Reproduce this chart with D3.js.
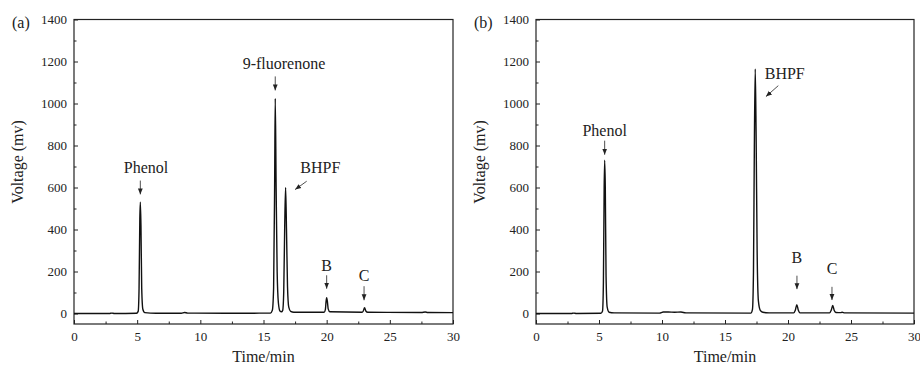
<!DOCTYPE html>
<html>
<head>
<meta charset="utf-8">
<script src="https://cdn.jsdelivr.net/npm/d3@7"></script>
<style>
  body { margin: 0; background: #fff; }
  svg text { font-family: "Liberation Serif", "Times New Roman", Times, serif !important; fill: #222; }
</style>
</head>
<body>
<div id="chart"></div>
<script>
// chromatogram (a): [time (min), voltage (mV)]
const traceA = [
  [0, 0], [2.8, 0], [3.0, 2], [3.2, 0], [4.95, 1], [5.08, 10], [5.15, 120], [5.21, 450],
  [5.25, 530], [5.3, 420], [5.36, 120], [5.45, 20], [5.6, 4], [6.5, 1], [8.5, 1], [8.75, 5],
  [9.0, 2], [12, 1], [15.55, 2], [15.7, 15], [15.8, 120], [15.88, 600], [15.93, 1024],
  [16.0, 600], [16.08, 200], [16.18, 50], [16.3, 12], [16.42, 8], [16.52, 15], [16.6, 100],
  [16.68, 420], [16.75, 600], [16.82, 400], [16.9, 130], [17.0, 30], [17.15, 10], [17.4, 6],
  [19.8, 6], [19.9, 20], [19.95, 55], [20.0, 75], [20.06, 55], [20.12, 22], [20.25, 8],
  [22.8, 6], [22.9, 12], [23.0, 28], [23.1, 12], [23.25, 6], [27.5, 5], [27.8, 7], [28, 5], [30, 4]
];

// chromatogram (b)
const traceB = [
  [0, 0], [2.8, 0], [3.0, 2], [3.2, 0], [5.15, 1], [5.28, 12], [5.35, 150], [5.41, 600],
  [5.45, 730], [5.5, 600], [5.56, 180], [5.65, 30], [5.8, 6], [6.2, 3], [9.8, 2], [10.1, 7],
  [10.5, 7], [11.0, 6], [11.5, 7], [11.9, 3], [17.05, 2], [17.18, 20], [17.26, 200],
  [17.33, 800], [17.4, 1165], [17.47, 850], [17.55, 300], [17.65, 60], [17.8, 15], [18.0, 6],
  [18.5, 3], [20.45, 3], [20.58, 15], [20.7, 42], [20.82, 15], [20.95, 3], [23.3, 3],
  [23.43, 15], [23.55, 38], [23.67, 14], [23.8, 5], [24.2, 4], [24.3, 6], [24.5, 3], [30, 2]
];

// annotations: label, text anchor [t, v], arrow from [t, v] to [t, v]
const labelsA = [
  { text: "Phenol", at: [5.7, 671], from: [5.25, 633], to: [5.25, 567] },
  { text: "9-fluorenone", at: [16.62, 1162], from: [15.93, 1129], to: [15.93, 1062] },
  { text: "BHPF", at: [19.5, 671], from: [18.42, 630], to: [17.5, 590] },
  { text: "B", at: [20.0, 201], from: [20.0, 182], to: [20.0, 118] },
  { text: "C", at: [22.96, 154], from: [22.96, 130], to: [22.96, 63] }
];
const labelsB = [
  { text: "Phenol", at: [5.45, 847], from: [5.45, 823], to: [5.45, 756] },
  { text: "BHPF", at: [19.74, 1117], from: [19.23, 1085], to: [18.25, 1033] },
  { text: "B", at: [20.71, 240], from: [20.71, 180], to: [20.71, 116] },
  { text: "C", at: [23.49, 188], from: [23.49, 127], to: [23.49, 64] }
];

const xTicks = [0, 5, 10, 15, 20, 25, 30];
const xMinor = [2.5, 7.5, 12.5, 17.5, 22.5, 27.5];
const yTicks = [0, 200, 400, 600, 800, 1000, 1200, 1400];
const yMinor = [100, 300, 500, 700, 900, 1100, 1300];

const serif = "'Liberation Serif', 'Times New Roman', Times, serif";

const svg = d3.select("#chart").append("svg")
  .attr("width", 920)
  .attr("height", 367);

const defs = svg.append("defs");
defs.append("marker")
  .attr("id", "head")
  .attr("viewBox", "0 0 10 10")
  .attr("refX", 10)
  .attr("refY", 5)
  .attr("markerWidth", 6)
  .attr("markerHeight", 6)
  .attr("markerUnits", "userSpaceOnUse")
  .attr("orient", "auto")
  .append("path")
  .attr("d", "M0,1 L10,5 L0,9 Z")
  .attr("fill", "#222");

function drawPanel(left, right, tag, trace, labels) {
  const top = 19.5, bottom = 324;

  const x = d3.scaleLinear().domain([0, 30]).range([left, right]);
  const y = d3.scaleLinear().domain([-50, 1400]).range([bottom, top]);

  const g = svg.append("g").attr("font-family", serif);

  // minor ticks
  g.append("g")
    .attr("transform", `translate(0,${bottom})`)
    .call(d3.axisBottom(x).tickValues(xMinor).tickFormat("").tickSizeInner(-2.5).tickSizeOuter(0))
    .call(a => a.select(".domain").remove());
  g.append("g")
    .attr("transform", `translate(${left},0)`)
    .call(d3.axisLeft(y).tickValues(yMinor).tickFormat("").tickSizeInner(-2.5).tickSizeOuter(0))
    .call(a => a.select(".domain").remove());

  // major ticks
  g.append("g")
    .attr("transform", `translate(0,${bottom})`)
    .call(d3.axisBottom(x).tickValues(xTicks).tickFormat(d3.format("d"))
      .tickSizeInner(-4).tickSizeOuter(0).tickPadding(8))
    .call(a => a.select(".domain").remove())
    .attr("font-family", serif)
    .attr("font-size", 13);
  g.append("g")
    .attr("transform", `translate(${left},0)`)
    .call(d3.axisLeft(y).tickValues(yTicks).tickFormat(d3.format("d"))
      .tickSizeInner(-4).tickSizeOuter(0).tickPadding(7))
    .call(a => a.select(".domain").remove())
    .attr("font-family", serif)
    .attr("font-size", 13);

  g.selectAll(".tick line").attr("stroke", "#222").attr("stroke-width", 1);

  // frame
  g.append("rect")
    .attr("x", left)
    .attr("y", top)
    .attr("width", right - left)
    .attr("height", bottom - top)
    .attr("fill", "none")
    .attr("stroke", "#222")
    .attr("stroke-width", 1.2);

  // trace
  const line = d3.line()
    .x(d => x(d[0]))
    .y(d => y(d[1]))
    .curve(d3.curveMonotoneX);

  g.append("path")
    .datum(trace)
    .attr("d", line)
    .attr("fill", "none")
    .attr("stroke", "#111")
    .attr("stroke-width", 1.4);

  // labels and arrows
  g.selectAll("text.lbl")
    .data(labels)
    .enter()
    .append("text")
    .attr("class", "lbl")
    .attr("x", d => x(d.at[0]))
    .attr("y", d => y(d.at[1]))
    .attr("text-anchor", "middle")
    .attr("font-size", 16)
    .text(d => d.text);

  g.selectAll("line.arrow")
    .data(labels)
    .enter()
    .append("line")
    .attr("class", "arrow")
    .attr("x1", d => x(d.from[0]))
    .attr("y1", d => y(d.from[1]))
    .attr("x2", d => x(d.to[0]))
    .attr("y2", d => y(d.to[1]))
    .attr("stroke", "#222")
    .attr("stroke-width", 0.8)
    .attr("marker-end", "url(#head)");

  // axis titles
  g.append("text")
    .attr("x", (left + right) / 2)
    .attr("y", 362)
    .attr("text-anchor", "middle")
    .attr("font-size", 16)
    .text("Time/min");

  g.append("text")
    .attr("transform", `translate(${left - 51},162) rotate(-90)`)
    .attr("text-anchor", "middle")
    .attr("font-size", 16)
    .text("Voltage (mv)");

  g.append("text")
    .attr("x", left - 62)
    .attr("y", 28)
    .attr("font-size", 16)
    .text(tag);
}

drawPanel(74, 453, "(a)", traceA, labelsA);
drawPanel(536, 914, "(b)", traceB, labelsB);
</script>
</body>
</html>
